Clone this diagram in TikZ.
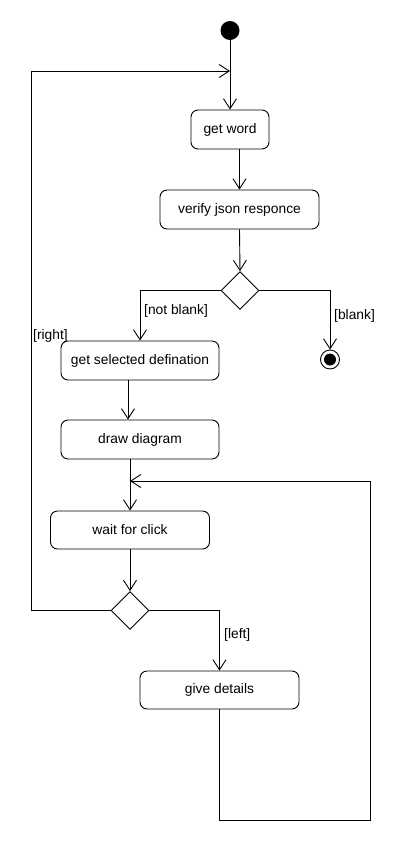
\documentclass[tikz,border=0pt]{standalone}
\usepackage{fontspec}
\setmainfont{Liberation Sans}
\usetikzlibrary{arrows.meta,shapes.geometric}
\begin{document}
\begin{tikzpicture}[x=1pt,y=-1pt,
  act/.style={draw,rounded corners=7pt,line width=0.9pt,inner sep=0pt,minimum height=39pt,font=\fontsize{13.8}{16}\selectfont},
  dec/.style={draw,diamond,aspect=1,inner sep=0pt,minimum width=38pt,minimum height=38pt,line width=0.9pt},
  arr/.style={line width=0.9pt,-{Straight Barb[length=10pt,width=13pt,line width=0.9pt]}},
  ln/.style={line width=0.9pt},
  guard/.style={anchor=west,inner sep=0pt,font=\fontsize{13.8}{16}\selectfont}]
\useasboundingbox (0,0) rectangle (410,860);
\fill[white] (0,0) rectangle (410,860);
\node[circle,fill=black,inner sep=0pt,minimum size=19pt] (start) at (230,30.5) {};
\node[act,minimum width=78pt] (getword) at (230,129.5) {get word};
\node[act,minimum width=159pt] (verify) at (239.5,209.5) {verify json responce};
\node[dec] (d1) at (240,290.5) {};
\node[act,minimum width=158pt] (getsel) at (140,360.5) {get selected defination};
\node[circle,draw,line width=0.9pt,inner sep=0pt,minimum size=19pt] (endn) at (330,359.5) {};
\node[circle,fill=black,inner sep=0pt,minimum size=12pt] (endin) at (endn.center) {};
\node[act,minimum width=158pt] (drawd) at (140,439.5) {draw diagram};
\node[act,minimum width=159pt,minimum height=38pt] (wait) at (130,530) {wait for click};
\node[dec] (d2) at (130,610.5) {};
\node[act,minimum width=159pt,minimum height=38pt] (give) at (219.5,690) {give details};
\coordinate (lp) at (31,71);
\coordinate (rb) at (370.5,820.5);
\coordinate (m2) at (130,481);
\node[guard] (gnb) at (144,310.5) {[not blank]};
\node[guard] (gb) at (334,316) {[blank]};
\node[guard] (gr) at (33,336) {[right]};
\node[guard] (gl) at (224,634.5) {[left]};
\draw[arr] (start) -- (getword);
\draw[arr] (getword.south -| verify.north) -- (verify.north);
\draw[arr] (verify.south) -- (d1.north);
\draw[arr] (d1.west) -| (getsel.north);
\draw[arr] (d1.east) -| (endn.north);
\draw[arr] ([xshift=-12pt]getsel.south) -- ([xshift=-12pt]drawd.north);
\draw[arr] (drawd.south -| wait.north) -- (wait.north);
\draw[arr] (wait.south) -- (d2.north);
\draw[arr] (d2.west) -| (lp) -- (lp -| start);
\draw[arr] (d2.east) -| (give.north);
\draw[arr] (give.south) |- (rb) |- (m2);
\end{tikzpicture}
\end{document}
